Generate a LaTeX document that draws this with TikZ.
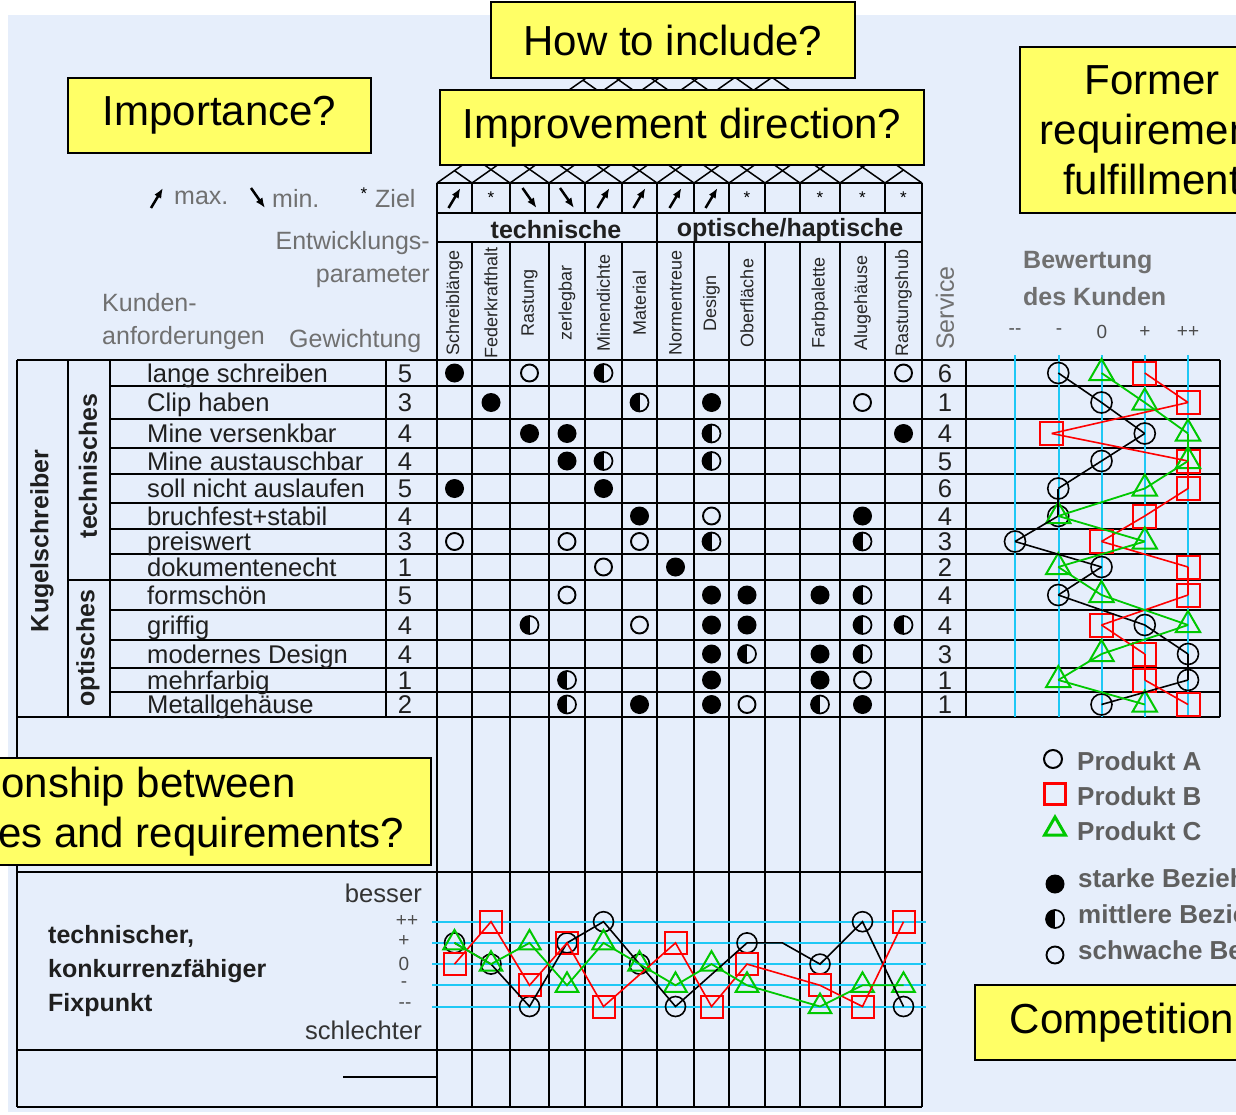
\documentclass[tikz,border=0pt]{standalone}
\usepackage{fontspec}
\setmainfont{Liberation Sans}
\usetikzlibrary{shapes.geometric,arrows.meta}

\definecolor{hintergrund}{RGB}{230,238,251}
\definecolor{zettel}{RGB}{255,255,102}
\definecolor{hilfslinie}{RGB}{30,200,245}
\definecolor{gruen}{RGB}{0,200,0}
\definecolor{kopfgrau}{RGB}{112,112,112}
\definecolor{legendgrau}{RGB}{95,95,95}

\begin{document}
\begin{tikzpicture}[x=1pt, y=-1pt,
    gitter/.style={line width=1.8pt},
    dach/.style={line width=1.5pt},
    hilfs/.style={draw=hilfslinie, line width=2pt},
    frage/.style={draw=black, fill=zettel, line width=2pt, align=center, inner sep=0pt, font=\fontsize{42}{50}\selectfont},
    kopf/.style={text=kopfgrau, inner sep=0pt, font=\fontsize{25}{30}\selectfont},
    kopffett/.style={text=kopfgrau, inner sep=0pt, font=\bfseries\fontsize{25}{30}\selectfont},
    zeile/.style={text=black!88, inner sep=0pt, font=\fontsize{25.6}{30}\selectfont},
    fett/.style={text=black!88, inner sep=0pt, font=\bfseries\fontsize{25}{34}\selectfont},
    spalte/.style={text=black!85, inner sep=0pt, rotate=90, font=\fontsize{18}{20}\selectfont},
    stufe/.style={text=black!70, inner sep=0pt, font=\fontsize{19}{20}\selectfont},
    relS/.style={circle, fill=black, minimum size=19pt, inner sep=0pt},
    relM/.style={circle, draw=black, line width=1.7pt, minimum size=18pt, inner sep=0pt,
      path picture={\fill[black] (path picture bounding box.north west) rectangle (path picture bounding box.south);}},
    relW/.style={circle, draw=black, line width=1.9pt, minimum size=17pt, inner sep=0pt},
    prodA/.style={circle, draw=black, line width=1.6pt, minimum size=21pt, inner sep=0pt},
    prodB/.style={rectangle, draw=red, line width=2pt, minimum size=23pt, inner sep=0pt},
    prodC/.style={regular polygon, regular polygon sides=3, draw=gruen, line width=2pt, minimum size=28pt, inner sep=0pt},
    linieA/.style={draw=black, line width=1.6pt},
    linieB/.style={draw=red, line width=1.6pt},
    linieC/.style={draw=gruen, line width=1.8pt},
    richtung/.style={line width=2.5pt, -{Latex[length=10pt,width=8pt]}},
    ziel/.style={inner sep=0pt, font=\fontsize{17}{17}\selectfont},
    legende/.style={text=legendgrau, inner sep=0pt, anchor=west, font=\bfseries\fontsize{26}{30}\selectfont}
  ]
    % 背景
    \useasboundingbox (0,0) rectangle (1236,1115);
    \clip (0,0) rectangle (1236,1115);
    \fill[white] (0,0) rectangle (1236,1115);
    \fill[hintergrund] (8,15) rectangle (1236,1112);

    \def\spx{{454.5,491,529.5,567,603.5,639.5,675.5,711.5,747,782.5,820,862.5,903.5}}
    \def\zey{{373,402.5,433.5,461,488.5,516,541.5,567,595,625,654,680,704.5}}

    % 屋根
    \foreach \xa in {437,472,510,549,585,622,657,694,729,765,800,840,885,922} {
      \draw[dach] (\xa,183) -- ({(\xa+922)/2},{183-(922-\xa)/2.84});
      \draw[dach] (\xa,183) -- ({(\xa+437)/2},{183-(\xa-437)/2.84});
    }

    % 表
    \draw[gitter] (437,183) -- (922,183);
    \draw[gitter] (437,213) -- (922,213);
    \draw[gitter] (437,242) -- (922,242);
    \draw[gitter] (17,360) -- (1220,360);
    \draw[gitter] (17,717) -- (1220,717);
    \draw[gitter] (68,580) -- (1220,580);
    \foreach \yy in {386,419,448,474,503,529,554,610,640,668,692}
      \draw[gitter] (110,\yy) -- (1220,\yy);
    \draw[gitter] (17,872) -- (922,872);
    \draw[gitter] (17,1050) -- (922,1050);
    \draw[gitter] (17,1107) -- (922,1107);
    \draw[gitter] (343,1077) -- (437,1077);
    \draw[gitter] (17,360) -- (17,1107);
    \draw[gitter] (68,360) -- (68,717);
    \draw[gitter] (110,360) -- (110,717);
    \draw[gitter] (386,360) -- (386,717);
    \draw[gitter] (437,183) -- (437,1107);
    \draw[gitter] (657,183) -- (657,1107);
    \draw[gitter] (922,183) -- (922,1107);
    \foreach \xx in {472,510,549,585,622,694,729,765,800,840,885} {
      \draw[gitter] (\xx,183) -- (\xx,213);
      \draw[gitter] (\xx,242) -- (\xx,1107);
    }
    \draw[gitter] (966,360) -- (966,717);
    \draw[gitter] (1220,360) -- (1220,717);

    % 補助線
    \foreach \xx in {1015,1059,1102,1145,1188}
      \draw[hilfs] (\xx,355) -- (\xx,717);
    \foreach \yy in {921.7,943,964,985,1006.5}
      \draw[hilfs] (432,\yy) -- (926,\yy);

    % 見出し
    \node[kopf, anchor=west] (maxt) at (174,198) {max.};
    \coordinate (maxp) at (157,198);
    \draw[richtung] (maxp) ++(-6,10) -- ++(12,-20);
    \node[kopf, anchor=west] (mint) at (272,198) {min.};
    \coordinate (minp) at (258,198);
    \draw[richtung] (minp) ++(-7,-10) -- ++(14,20);
    \node[ziel] (zielp) at (364,194) {*};
    \node[kopf, anchor=west] (zielt) at (375,199) {Ziel};
    \node[kopf, anchor=east] (entw) at (430,243) {Entwicklungs-};
    \node[kopf, anchor=east] (param) at (430,277) {parameter};
    \node[kopf, anchor=west] (kund) at (102,303) {Kunden-};
    \node[kopf, anchor=west] (anf) at (102,338) {anforderungen};
    \node[kopf, anchor=west] (gew) at (289,341) {Gewichtung};
    \node[kopf, rotate=90] (serv) at (945,308) {Service};
    \node[kopffett, anchor=west] (bew) at (1023,263) {Bewertung};
    \node[kopffett, anchor=west] (desk) at (1023,297) {des Kunden};
    \foreach \l/\x [count=\i] in {-{}-/1015,-/1059,0/1102,+/1145,++/1188}
      \node[stufe] (bw\i) at (\x,332) {\l};

    \node[fett] (techn) at (556,230) {technische};
    \node[fett] (optik) at (790,230) {optische/haptische};
    \foreach \name [count=\i] in {Schreiblänge,Federkrafthalt,Rastung,zerlegbar,Minendichte,Material,Normentreue,Design,Oberfläche,{},Farbpalette,Alugehäuse,Rastungshub} {
      \pgfmathsetmacro\cx{\spx[\i-1]}
      \node[spalte] (sp\i) at (\cx,303) {\name};
    }

    % 方向
    \foreach \i in {1,...,13} {
      \pgfmathsetmacro\cx{\spx[\i-1]}
      \coordinate (d\i) at (\cx,198);
    }
    \foreach \i in {1,5,6,7,8}
      \draw[richtung] (d\i) ++(-6,10) -- ++(12,-20);
    \foreach \i in {3,4}
      \draw[richtung] (d\i) ++(-7,-10) -- ++(14,20);
    \foreach \i in {2,9,11,12,13}
      \node[ziel] (z\i) at (d\i) {*};

    % 要求
    \node[fett, rotate=90] (kuli) at (42,541) {Kugelschreiber};
    \node[fett, rotate=90] (tech) at (88,466) {technisches};
    \node[fett, rotate=90] (opt) at (88,648) {optisches};
    \foreach \txt/\w/\s [count=\r] in {lange schreiben/5/6,Clip haben/3/1,Mine versenkbar/4/4,Mine austauschbar/4/5,soll nicht auslaufen/5/6,bruchfest+stabil/4/4,preiswert/3/3,dokumentenecht/1/2,formschön/5/4,griffig/4/4,modernes Design/4/3,mehrfarbig/1/1,Metallgehäuse/2/1} {
      \pgfmathsetmacro\ry{\zey[\r-1]+9}
      \node[zeile, anchor=base west] (k\r) at (147,\ry) {\txt};
      \node[zeile, anchor=base] (g\r) at (405,\ry) {\w};
      \node[zeile, anchor=base] (sv\r) at (945,\ry) {\s};
    }

    % 関係
    \foreach \c/\r/\t in {1/1/S,3/1/W,5/1/M,13/1/W,
        2/2/S,6/2/M,8/2/S,12/2/W,
        3/3/S,4/3/S,8/3/M,13/3/S,
        4/4/S,5/4/M,8/4/M,
        1/5/S,5/5/S,
        6/6/S,8/6/W,12/6/S,
        1/7/W,4/7/W,6/7/W,8/7/M,12/7/M,
        5/8/W,7/8/S,
        4/9/W,8/9/S,9/9/S,11/9/S,12/9/M,
        3/10/M,6/10/W,8/10/S,9/10/S,12/10/M,13/10/M,
        8/11/S,9/11/M,11/11/S,12/11/M,
        4/12/M,8/12/S,11/12/S,12/12/W,
        4/13/M,6/13/S,8/13/S,9/13/W,11/13/M,12/13/S} {
      \pgfmathsetmacro\cx{\spx[\c-1]}
      \pgfmathsetmacro\ry{\zey[\r-1]}
      \node[rel\t] (m\c-\r) at (\cx,\ry) {};
    }

    % 顧客評価
    \foreach \a/\b/\cc [count=\r] in {2/4/3,3/5/4,4/1.85/5,3/5/5,2/5/4,2/4/2,1/3/4,3/5/2,2/5/3,4/3/5,5/4/3,5/4/2,3/5/4} {
      \pgfmathsetmacro\ry{\zey[\r-1]}
      \node[prodA] (kA\r) at ({1015+43.25*(\a-1)},\ry) {};
      \node[prodB] (kB\r) at ({1015+43.25*(\b-1)},\ry) {};
      \node[prodC] (kC\r) at ({1015+43.25*(\cc-1)},\ry) {};
    }
    \foreach \r [evaluate=\r as \n using int(\r+1)] in {1,...,12} {
      \draw[linieA] (kA\r.center) -- (kA\n.center);
      \draw[linieB] (kB\r.center) -- (kB\n.center);
      \draw[linieC] (kC\r.center) -- (kC\n.center);
    }

    % 技術比較
    \node[fett, anchor=west, align=left] (fix) at (48,971) {technischer,\\konkurrenzfähiger\\Fixpunkt};
    \node[zeile, anchor=east, text=black!80] (bess) at (422,893) {besser};
    \node[zeile, anchor=east, text=black!80] (schl) at (422,1030) {schlechter};
    \node[stufe] (t5) at (407,921) {++};
    \node[stufe] (t4) at (404,941) {+};
    \node[stufe] (t3) at (404,964) {0};
    \node[stufe] (t2) at (404,985) {-};
    \node[stufe] (t1) at (405,1006) {-{}-};

    \foreach \c/\l in {1/4,2/3,3/1,4/4,5/5,6/3,7/1,9/4,11/3,12/5,13/1} {
      \pgfmathsetmacro\cx{\spx[\c-1]}
      \node[prodA, minimum size=20pt] (tA\c) at (\cx,{1006.5-21.2*(\l-1)}) {};
    }
    \coordinate (tA10) at (782.5,942.9);
    \foreach \c/\l in {1/3,2/5,3/2,4/4,5/1,7/4,8/1,9/3,11/2,12/1,13/5} {
      \pgfmathsetmacro\cx{\spx[\c-1]}
      \node[prodB, minimum size=22pt] (tB\c) at (\cx,{1006.5-21.2*(\l-1)}) {};
    }
    \foreach \c/\l in {1/4,2/3,3/4,4/2,5/4,6/3,7/2,8/3,9/2,11/1,12/2,13/2} {
      \pgfmathsetmacro\cx{\spx[\c-1]}
      \node[prodC, minimum size=26pt] (tC\c) at (\cx,{1006.5-21.2*(\l-1)}) {};
    }
    \draw[linieA] (tA1.center) -- (tA2.center) -- (tA3.center) -- (tA4.center) -- (tA5.center) -- (tA6.center) -- (tA7.center)
      -- (tA9.center) -- (tA10) -- (tA11.center) -- (tA12.center) -- (tA13.center);
    \draw[linieB] (tB1.center) -- (tB2.center) -- (tB3.center) -- (tB4.center) -- (tB5.center) -- (tB7.center) -- (tB8.center)
      -- (tB9.center) -- (tB11.center) -- (tB12.center) -- (tB13.center);
    \draw[linieC] (tC1.center) -- (tC2.center) -- (tC3.center) -- (tC4.center) -- (tC5.center) -- (tC6.center) -- (tC7.center)
      -- (tC8.center) -- (tC9.center) -- (tC11.center) -- (tC12.center) -- (tC13.center);

    % 凡例
    \node[prodA, minimum size=18pt, line width=2pt] (lgA) at (1053,759) {};
    \node[legende] (lgAt) at (1077,761) {Produkt A};
    \node[prodB, minimum size=21pt, line width=3pt] (lgB) at (1055,794) {};
    \node[legende] (lgBt) at (1077,796) {Produkt B};
    \node[prodC, minimum size=24pt, line width=3pt] (lgC) at (1055,829) {};
    \node[legende] (lgCt) at (1077,831) {Produkt C};
    \node[relS] (lgS) at (1055,884) {};
    \node[legende] (lgSt) at (1078,881) {starke Beziehung};
    \node[relM] (lgM) at (1055,919) {};
    \node[legende] (lgMt) at (1078,917) {mittlere Beziehung};
    \node[relW] (lgW) at (1055,955) {};
    \node[legende] (lgWt) at (1078,953) {schwache Beziehung};

    % 質問
    \node[frage, minimum width=364pt, minimum height=76pt] (wie) at (673,40) {How to include?};
    \node[frage, minimum width=303pt, minimum height=75pt] (wichtig) at (219.5,115.5) {Importance?};
    \node[frage, minimum width=484pt, minimum height=75pt] (richt) at (682,127.5) {Improvement direction?};
    \node[frage, minimum width=264pt, minimum height=166pt] (frueher) at (1152,130) {Former\\requirement\\fulfillment};
    \node[frage, minimum width=671pt, minimum height=107pt] (bezug) at (95,811.5) {Relationship between\\the properties and requirements?};
    \node[frage, minimum width=294pt, minimum height=75pt] (wettb) at (1122,1022.5) {Competition};
  \end{tikzpicture}
\end{document}
